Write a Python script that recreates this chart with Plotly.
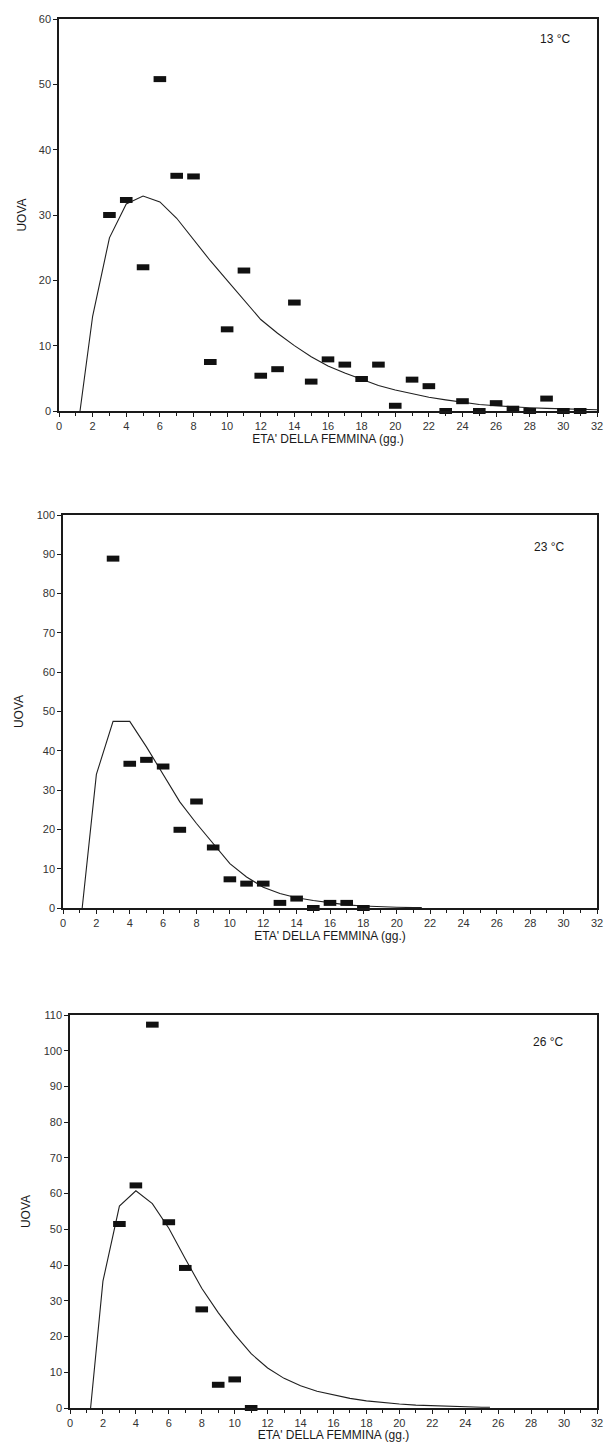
import plotly.graph_objects as go

# ---------------- data ----------------
age_pts = list(range(3, 32))
eggs_13 = [30.0, 32.3, 22.0, 50.8, 36.0, 35.9, 7.5, 12.5, 21.5, 5.4, 6.4, 16.6, 4.5,
           7.9, 7.1, 4.9, 7.1, 0.8, 4.8, 3.8, 0.0, 1.5, 0.0, 1.2, 0.35, 0.0, 1.9, 0.0, 0.0]
fit_x_13 = [1.25] + list(range(2, 33))
fit_y_13 = [0, 14.5, 26.5, 31.7, 32.9, 32.0, 29.5, 26.3, 23.0, 20.0, 17.0, 14.0, 11.9,
            10.0, 8.3, 6.9, 5.8, 4.9, 3.9, 3.2, 2.6, 2.1, 1.7, 1.3, 1.0, 0.8, 0.6, 0.5,
            0.4, 0.3, 0.2, 0.2]

age_23 = list(range(3, 19))
eggs_23 = [88.9, 36.7, 37.7, 36.0, 19.9, 27.1, 15.4, 7.3, 6.2, 6.2, 1.3, 2.4, 0.0, 1.3, 1.3, 0.0]
fit_x_23 = [1.15] + list(range(2, 22)) + [21.5]
fit_y_23 = [0, 34.0, 47.5, 47.5, 41.0, 34.0, 27.0, 21.5, 16.4, 11.3, 7.9, 5.3, 3.7, 2.6,
            1.9, 1.3, 0.8, 0.5, 0.3, 0.2, 0.1, 0.1]

age_26 = list(range(3, 12))
eggs_26 = [51.5, 62.3, 107.3, 52.0, 39.2, 27.6, 6.5, 8.0, 0.0]
fit_x_26 = [1.25] + list(range(2, 26)) + [25.5]
fit_y_26 = [0, 35.5, 56.5, 60.8, 57.2, 50.3, 41.8, 33.5, 26.7, 20.6, 15.2, 11.2, 8.3,
            6.2, 4.7, 3.6, 2.7, 2.0, 1.5, 1.1, 0.8, 0.6, 0.4, 0.3, 0.2, 0.2]

temps = ["13 °C", "23 °C", "26 °C"]
ymax = [60, 100, 110]
x_title = "ETA' DELLA FEMMINA (gg.)"
y_title = "UOVA"

# ---------------- layout geometry ----------------
# figure sized so the page (with its 8px body margin) does not overflow the window
W, H = 597, 1434
OFF = 8
panels = [  # left, right, top, bottom in page px
    (59, 597, 19, 411),
    (63, 597, 515, 908),
    (70, 597, 1015, 1408),
]
label_pos = [(29.5, 57.0), (29.1, 91.8), (29.0, 102.5)]

series = [
    (age_pts, eggs_13, fit_x_13, fit_y_13),
    (age_23, eggs_23, fit_x_23, fit_y_23),
    (age_26, eggs_26, fit_x_26, fit_y_26),
]

fig = go.Figure()
font_fam = "Liberation Sans, Arial, sans-serif"
ink = "#1a1a1a"

for i, (px, py, fx, fy) in enumerate(series):
    sfx = "" if i == 0 else str(i + 1)
    fig.add_trace(go.Scatter(x=fx, y=fy, mode="lines",
                             line=dict(color="#202020", width=1.1),
                             xaxis="x" + sfx, yaxis="y" + sfx, showlegend=False,
                             cliponaxis=True))
    fig.add_trace(go.Scatter(x=px, y=py, mode="markers",
                             marker=dict(symbol="line-ew", size=9,
                                         line=dict(color="#111111", width=6)),
                             xaxis="x" + sfx, yaxis="y" + sfx, showlegend=False,
                             cliponaxis=False))
    l, r, t, b = [v - OFF for v in panels[i]]
    xdom = [l / W, r / W]
    ydom = [1 - b / H, 1 - t / H]
    common = dict(showgrid=False, zeroline=False, showline=True, linecolor=ink,
                  linewidth=1.5, mirror=True, ticks="outside", tickcolor=ink,
                  ticklen=4, tickwidth=1, automargin=False,
                  ticklabeloverflow="allow",
                  tickfont=dict(family=font_fam, size=11, color="#333333"))
    fig.layout["xaxis" + sfx] = dict(
        domain=xdom, range=[0, 32], dtick=2, tick0=0,
        anchor="y" + sfx,
        minor=dict(dtick=1, ticks="outside", ticklen=3, tickcolor=ink),
        title=dict(text=x_title, standoff=2,
                   font=dict(family=font_fam, size=12, color=ink)),
        **common)
    fig.layout["yaxis" + sfx] = dict(
        domain=ydom, range=[0, ymax[i]], dtick=10, tick0=0,
        anchor="x" + sfx,
        title=dict(text=y_title, standoff=10,
                   font=dict(family=font_fam, size=12, color=ink)),
        **common)
    lx, ly = label_pos[i]
    fig.add_annotation(x=lx, y=ly, xref="x" + sfx, yref="y" + sfx, text=temps[i],
                       showarrow=False,
                       font=dict(family=font_fam, size=12, color=ink))

fig.update_layout(width=W, height=H, margin=dict(l=0, r=0, t=0, b=0),
                  paper_bgcolor="white", plot_bgcolor="white")

fig.write_html("out.html")
